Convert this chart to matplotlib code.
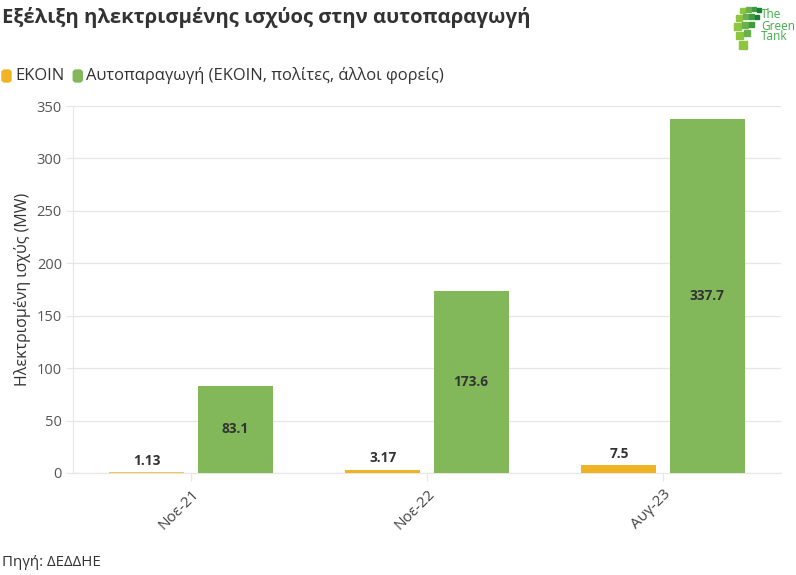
import numpy as np
import matplotlib
matplotlib.use("Agg")
import matplotlib.pyplot as plt
from matplotlib.patches import FancyBboxPatch, Rectangle

# ── data ──────────────────────────────────────────────────────────────────────
periods = ["Νοε-21", "Νοε-22", "Αυγ-23"]
ekoin = [1.13, 3.17, 7.5]
autoparagogi = [83.1, 173.6, 337.7]
ekoin_labels = ["1.13", "3.17", "7.5"]
auto_labels = ["83.1", "173.6", "337.7"]
series_names = ["ΕΚΟΙΝ", "Αυτοπαραγωγή (ΕΚΟΙΝ, πολίτες, άλλοι φορείς)"]
y_ticks = [0, 50, 100, 150, 200, 250, 300, 350]

ORANGE = "#F0B323"
GREEN = "#82B85A"
TEXT = "#333333"
TICK = "#555555"
GRID = "#e6e6e6"

plt.rcParams["font.family"] = ["Open Sans", "DejaVu Sans"]

fig = plt.figure(figsize=(7.96, 5.75), dpi=100)
ax = fig.add_axes([73 / 796, 1 - 473 / 575, 708 / 796, (473 - 106) / 575])

x = np.arange(len(periods))
w = 0.318
off = 0.187
b1 = ax.bar(x - off, ekoin, width=w, color=ORANGE, linewidth=0, zorder=3)
b2 = ax.bar(x + off, autoparagogi, width=w, color=GREEN, linewidth=0, zorder=3)
b1[0].set_alpha(0.75)

for bar, lab in zip(b1, ekoin_labels):
    ax.text(bar.get_x() + bar.get_width() / 2, bar.get_height() + 4, lab,
            ha="center", va="bottom", fontsize=9.8, fontweight="bold", color=TEXT, zorder=4)
for bar, lab in zip(b2, auto_labels):
    ax.text(bar.get_x() + bar.get_width() / 2, bar.get_height() / 2, lab,
            ha="center", va="center", fontsize=9.8, fontweight="bold", color=TEXT, zorder=4)

ax.set_xlim(-0.5, 2.5)
ax.set_ylim(0, 350)
ax.set_yticks(y_ticks)
ax.set_xticks(x)
ax.set_xticklabels(periods, rotation=45, ha="right", rotation_mode="anchor")
ax.tick_params(axis="y", colors=TICK, labelsize=10.5, length=5, color=GRID, pad=3)
ax.tick_params(axis="x", colors=TEXT, labelsize=11, length=6, color=GRID, pad=4)
for lab in ax.get_xticklabels():
    lab.set_color("#444444")
ax.yaxis.grid(True, color=GRID, linewidth=0.9, zorder=0)
ax.set_axisbelow(True)
for s in ["top", "right"]:
    ax.spines[s].set_visible(False)
ax.spines["left"].set_color(GRID)
ax.spines["bottom"].set_color(GRID)
ax.set_ylabel("Ηλεκτρισμένη ισχύς (MW)", fontsize=11.5, color=TEXT, labelpad=4)

# title
fig.text(0.003, 1 - 17 / 575, "Εξέλιξη ηλεκτρισμένης ισχύος στην αυτοπαραγωγή",
         fontsize=14.6, fontweight="bold", color=TEXT, va="center", ha="left")

# legend
lx = 2 / 796
ly = 1 - 76 / 575
for name, col in zip(series_names, [ORANGE, GREEN]):
    fig.patches.append(FancyBboxPatch((lx, ly - 6 / 575), 9 / 796, 12 / 575,
                                      boxstyle="round,pad=0,rounding_size=0.004",
                                      transform=fig.transFigure, color=col))
    t = fig.text(lx + 13 / 796, ly, name, fontsize=11.9, color=TEXT, va="center", ha="left")
    fig.canvas.draw()
    bb = t.get_window_extent()
    lx = (bb.x1 + 9) / 796

# logo (rough)
logo_cols = ["#8dc63f", "#6ab04c", "#3f9b3f", "#1e7b34"]
squares = [(740, 8, 5, 0), (746, 7, 5, 1), (752, 7, 4, 2), (757, 8, 4, 3),
           (736, 15, 6, 0), (743, 14, 5, 1), (749, 14, 5, 2), (755, 15, 4, 3),
           (734, 23, 7, 0), (742, 22, 6, 1), (749, 22, 5, 2),
           (736, 32, 7, 0), (744, 30, 6, 1),
           (739, 41, 8, 0)]
for sx, sy, sz, ci in squares:
    fig.patches.append(Rectangle((sx / 796, 1 - (sy + sz) / 575), sz / 796, sz / 575,
                                 transform=fig.transFigure, color=logo_cols[ci]))
fig.text(761 / 796, 1 - 26 / 575, "The\nGreen\nTank", fontsize=8.5, color="#3fae49",
         va="center", ha="left", linespacing=0.8)

# source
fig.text(2 / 796, 1 - 562 / 575, "Πηγή: ΔΕΔΔΗΕ", fontsize=10.8, color=TEXT, va="center", ha="left")

fig.savefig("out.png", dpi=100, facecolor="white")
